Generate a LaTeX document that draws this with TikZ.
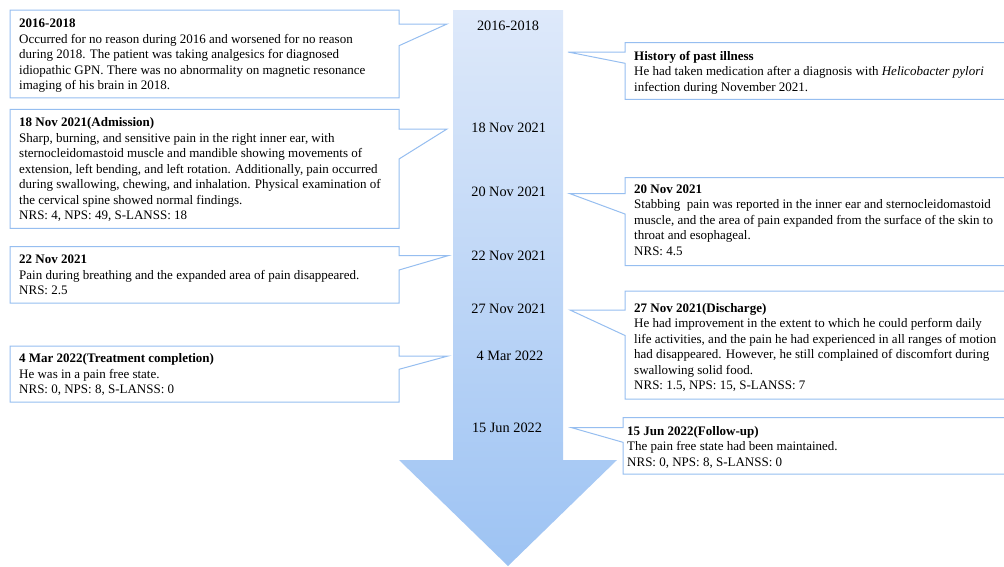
\documentclass[tikz,border=0pt]{standalone}
\usepackage{fontspec}
\setmainfont{Liberation Serif}
\definecolor{bordblue}{RGB}{150,190,240}
\definecolor{arrtop}{RGB}{222,233,250}
\definecolor{arrbot}{RGB}{157,195,243}
\begin{document}
\begin{tikzpicture}[x=1pt,y=-1pt,
  callout/.style={draw=bordblue, line width=1pt, fill=white, line join=miter},
  boxtext/.style={anchor=north west, inner sep=0pt, align=left,
    font=\fontsize{13}{15.5}\selectfont, yshift=10.85pt},
  datelbl/.style={anchor=base, inner sep=0pt, font=\fontsize{14.3}{16}\selectfont}]
\useasboundingbox (0,0) rectangle (1004,566);
\begin{scope}
\clip (0,0) rectangle (1004,566);
% timeline arrow
\shade[top color=arrtop, bottom color=arrbot]
  (453,10) -- (563,10) -- (563,460) -- (617,460) -- (508,566) -- (399,460) -- (453,460) -- cycle;
% left callouts
\draw[callout] (10,10) -- (399,10) -- (399,24) -- (447,24) -- (399,45.7) -- (399,97.8) -- (10,97.8) -- cycle;
\draw[callout] (10,109.3) -- (399,109.3) -- (399,129) -- (447,129) -- (399,159) -- (399,228.3) -- (10,228.3) -- cycle;
\draw[callout] (10,246.7) -- (399,246.7) -- (399,255.7) -- (448,255.7) -- (399,270) -- (399,303) -- (10,303) -- cycle;
\draw[callout] (10,346) -- (399,346) -- (399,356) -- (448,356) -- (399,369.3) -- (399,402) -- (10,402) -- cycle;
% right callouts (running off the right edge)
\draw[callout] (1004.5,42.5) -- (625,42.5) -- (625,52) -- (568,52) -- (625,63.3) -- (625,99.3) -- (1004.5,99.3);
\draw[callout] (1004.5,177.7) -- (625,177.7) -- (625,193.5) -- (569.5,193.5) -- (625,214) -- (625,265.7) -- (1004.5,265.7);
\draw[callout] (1004.5,291) -- (625,291) -- (625,310) -- (570,310) -- (625,335.5) -- (625,399) -- (1004.5,399);
\draw[callout] (1004.5,417.7) -- (623,417.7) -- (623,427.7) -- (571.7,427.7) -- (623,442.3) -- (623,474) -- (1004.5,474);
\end{scope}
% date labels
\node[datelbl] (d1) at (508,30.5) {2016-2018};
\node[datelbl] (d2) at (508.7,132.5) {18 Nov 2021};
\node[datelbl] (d3) at (508.7,196) {20 Nov 2021};
\node[datelbl] (d4) at (508.7,260) {22 Nov 2021};
\node[datelbl] (d5) at (508.7,313.3) {27 Nov 2021};
\node[datelbl] (d6) at (510,360.7) {4 Mar 2022};
\node[datelbl] (d7) at (507,432.7) {15 Jun 2022};
% left texts
\node[boxtext] (t1) at (19,27.3) {\strut\textbf{2016-2018}\\
Occurred for no reason during 2016 and worsened for no reason\\
during 2018. The patient was taking analgesics for diagnosed\\
idiopathic GPN. There was no abnormality on magnetic resonance\\
imaging of his brain in 2018.};
\node[boxtext] (t2) at (19,126.7) {\strut\textbf{18 Nov 2021(Admission)}\\
Sharp, burning, and sensitive pain in the right inner ear, with\\
sternocleidomastoid muscle and mandible showing movements of\\
extension, left bending, and left rotation. Additionally, pain occurred\\
during swallowing, chewing, and inhalation. Physical examination of\\
the cervical spine showed normal findings.\\
NRS: 4, NPS: 49, S-LANSS: 18};
\node[boxtext] (t3) at (19,263.3) {\strut\textbf{22 Nov 2021}\\
Pain during breathing and the expanded area of pain disappeared.\\
NRS: 2.5};
\node[boxtext] (t4) at (19,362.3) {\strut\textbf{4 Mar 2022(Treatment completion)}\\
He was in a pain free state.\\
NRS: 0, NPS: 8, S-LANSS: 0};
% right texts
\node[boxtext] (t5) at (634,60) {\strut\textbf{History of past illness}\\
He had taken medication after a diagnosis with \textit{Helicobacter pylori}\\
infection during November 2021.};
\node[boxtext] (t6) at (634,193) {\strut\textbf{20 Nov 2021}\\
Stabbing\ \ pain was reported in the inner ear and sternocleidomastoid\\
muscle, and the area of pain expanded from the surface of the skin to\\
throat and esophageal.\\
NRS: 4.5};
\node[boxtext] (t7) at (634,312) {\strut\textbf{27 Nov 2021(Discharge)}\\
He had improvement in the extent to which he could perform daily\\
life activities, and the pain he had experienced in all ranges of motion\\
had disappeared. However, he still complained of discomfort during\\
swallowing solid food.\\
NRS: 1.5, NPS: 15, S-LANSS: 7};
\node[boxtext] (t8) at (627,435) {\strut\textbf{15 Jun 2022(Follow-up)}\\
The pain free state had been maintained.\\
NRS: 0, NPS: 8, S-LANSS: 0};
\end{tikzpicture}
\end{document}
